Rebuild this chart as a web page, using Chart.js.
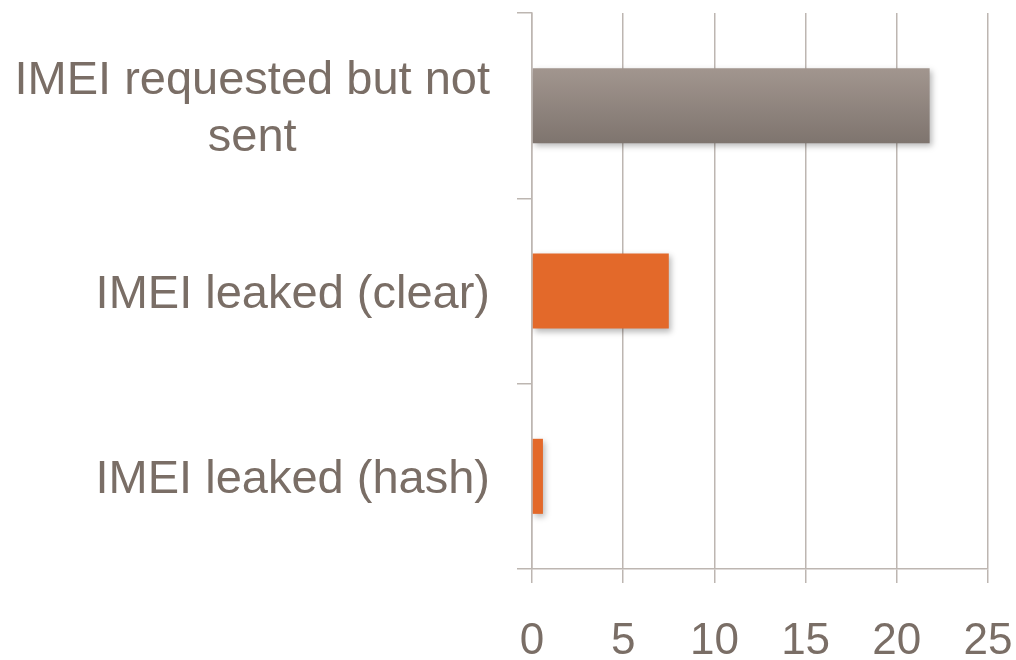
<!DOCTYPE html>
<html>
<head>
<meta charset="utf-8">
<script src="https://cdn.jsdelivr.net/npm/chart.js@4/dist/chart.umd.min.js"></script>
<style>
  html, body { margin: 0; padding: 0; background: #ffffff; }
  #wrap { width: 1016px; height: 660px; }
</style>
</head>
<body>
<div id="wrap"><canvas id="imeiChart"></canvas></div>
<script>
// data
const categories = [['IMEI requested but not', 'sent'], 'IMEI leaked (clear)', 'IMEI leaked (hash)'];
const counts = [21.8, 7.5, 0.6];
const xTicks = [0, 5, 10, 15, 20, 25];

const textColor = '#7a6e66';
const gridColor = '#bdb6b1';
const orange = '#e3692a';
const fontFamily = '"Liberation Sans", Arial, sans-serif';

// category labels drawn by hand so that wrapped lines are centred like the original
const catLabels = {
    id: 'catLabels',
    afterDraw(chart) {
        const ctx = chart.ctx;
        const yScale = chart.scales.y;
        const labelRight = yScale.right - 42;
        const lineH = 57;
        ctx.save();
        ctx.font = '47px ' + fontFamily;
        ctx.fillStyle = textColor;
        ctx.textAlign = 'center';
        ctx.textBaseline = 'middle';
        categories.forEach((lab, i) => {
            const lines = Array.isArray(lab) ? lab : [lab];
            const w = Math.max(...lines.map(l => ctx.measureText(l).width));
            const cx = labelRight - w / 2;
            const cy = yScale.getPixelForValue(i) + 4;
            lines.forEach((l, j) => {
                ctx.fillText(l, cx, cy + (j - (lines.length - 1) / 2) * lineH);
            });
        });
        ctx.restore();
    }
};

// soft drop shadow under the bars
const barShadow = {
    id: 'barShadow',
    beforeDatasetsDraw(chart) {
        const ctx = chart.ctx;
        ctx.save();
        ctx.shadowColor = 'rgba(0, 0, 0, 0.28)';
        ctx.shadowBlur = 6;
        ctx.shadowOffsetX = 2;
        ctx.shadowOffsetY = 3;
    },
    afterDatasetsDraw(chart) {
        chart.ctx.restore();
    }
};

function barColor(context) {
    if (context.dataIndex !== 0) return orange;
    const chart = context.chart;
    if (!chart.chartArea || !chart.scales.y) return '#918680';
    const yScale = chart.scales.y;
    const cy = yScale.getPixelForValue(0);
    const half = 38;
    const g = chart.ctx.createLinearGradient(0, cy - half, 0, cy + half);
    g.addColorStop(0, '#a2968f');
    g.addColorStop(1, '#7e746e');
    return g;
}

const ctx = document.getElementById('imeiChart').getContext('2d');
new Chart(ctx, {
    type: 'bar',
    data: {
        labels: categories,
        datasets: [{
            data: counts,
            backgroundColor: barColor,
            borderWidth: 0,
            barPercentage: 0.405,
            categoryPercentage: 1
        }]
    },
    options: {
        indexAxis: 'y',
        responsive: true,
        maintainAspectRatio: false,
        animation: false,
        layout: {
            padding: { top: 13, right: 0, left: 0, bottom: 0 }
        },
        plugins: {
            legend: { display: false },
            tooltip: { enabled: false }
        },
        scales: {
            x: {
                min: 0,
                max: 25,
                afterBuildTicks: scale => {
                    scale.ticks = xTicks.map(v => ({ value: v }));
                },
                afterFit: scale => {
                    scale.height = 91;
                    scale.paddingLeft = 0;
                    scale.paddingRight = 28;
                },
                grid: {
                    color: gridColor,
                    lineWidth: 1.5,
                    tickLength: 14
                },
                border: { color: gridColor, width: 1.5 },
                ticks: {
                    color: textColor,
                    padding: 32,
                    maxRotation: 0,
                    font: { family: fontFamily, size: 44 }
                }
            },
            y: {
                afterFit: scale => { scale.width = 532; },
                grid: {
                    drawOnChartArea: false,
                    color: gridColor,
                    lineWidth: 1.5,
                    tickLength: 15
                },
                border: { color: gridColor, width: 1.5 },
                ticks: { display: false }
            }
        }
    },
    plugins: [barShadow, catLabels]
});
</script>
</body>
</html>
